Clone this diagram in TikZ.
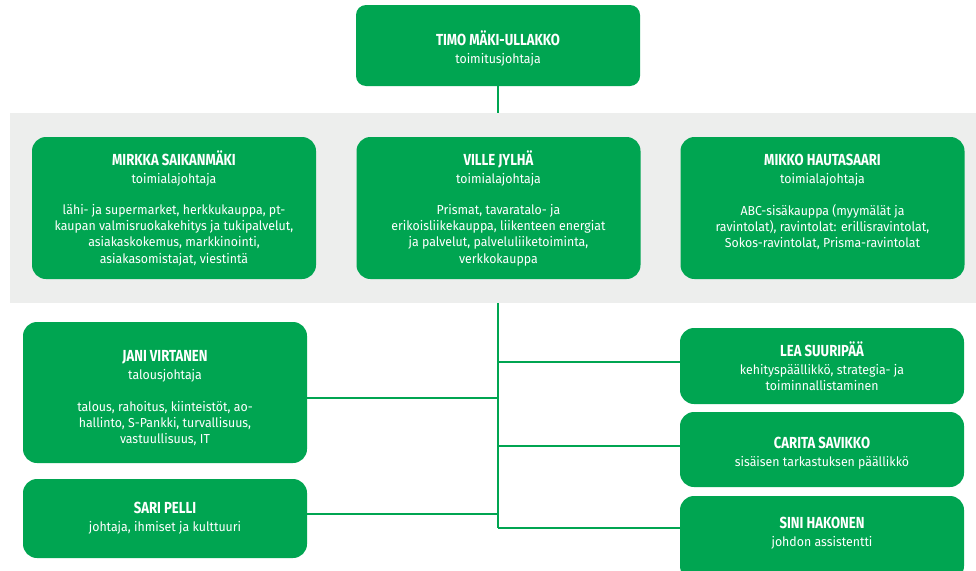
\documentclass[tikz,border=0pt]{standalone}
\usepackage{fontspec}
\setmainfont{Fira Sans}[FakeStretch=0.95]
\newfontfamily\namefont{Fira Sans}[FakeStretch=0.82]
\usepackage{xcolor}
\usepackage{tikz}

\definecolor{sgreen}{HTML}{00A551}
\definecolor{bandgray}{HTML}{EDEEED}

\newcommand{\who}[1]{{\namefont\bfseries\fontsize{16}{18}\selectfont #1}}

\begin{document}
\begin{tikzpicture}[x=1pt, y=-1pt,
  card/.style={fill=sgreen, rounded corners=14pt, text=white, align=center,
    minimum width=284pt, inner sep=0pt, font=\fontsize{13}{16.2}\selectfont},
  link/.style={draw=sgreen, line width=1.6pt}]

\useasboundingbox (0,0) rectangle (976,570);
\clip (0,0) rectangle (976,570);

% toimitusjohtaja
\node[card, minimum height=81pt, rounded corners=10pt] (timo) at (498,45.5)
  {\mbox{}\\[4pt] \who{TIMO MÄKI-ULLAKKO}\\[2pt] toimitusjohtaja};

% runko
\coordinate (trunkend) at (498,528);
\draw[link] (timo.south) -- (trunkend);

% harmaa kaista
\fill[bandgray] (10,113) rectangle (976,303);

% toimialajohtajat
\node[card, minimum height=142pt] (mirkka) at (174,208)
  {\who{MIRKKA SAIKANMÄKI}\\[2pt] toimialajohtaja\\[15pt]
   lähi- ja supermarket, herkkukauppa, pt-\\
   kaupan valmisruokakehitys ja tukipalvelut,\\
   asiakaskokemus, markkinointi,\\
   asiakasomistajat, viestintä};

\node[card, minimum height=142pt] (ville) at (498.5,208)
  {\who{VILLE JYLHÄ}\\[2pt] toimialajohtaja\\[15pt]
   Prismat, tavaratalo- ja\\
   erikoisliikekauppa, liikenteen energiat\\
   ja palvelut, palveluliiketoiminta,\\
   verkkokauppa};

\node[card, minimum height=142pt] (mikko) at (822.5,208)
  {\who{MIKKO HAUTASAARI}\\[2pt] toimialajohtaja\\[15pt]
   ABC-sisäkauppa (myymälät ja\\
   ravintolat), ravintolat: erillisravintolat,\\
   Sokos-ravintolat, Prisma-ravintolat\\[-7pt] \strut};

% muu johto
\node[card, minimum height=141pt] (jani) at (165,392.5)
  {\mbox{}\\[6pt] \who{JANI VIRTANEN}\\[2pt] talousjohtaja\\[15pt]
   talous, rahoitus, kiinteistöt, ao-\\
   hallinto, S-Pankki, turvallisuus,\\
   vastuullisuus, IT};

\node[card, minimum height=79pt] (sari) at (165,518.5)
  {\who{SARI PELLI}\\[2pt] johtaja, ihmiset ja kulttuuri};

\node[card, minimum height=76pt] (lea) at (822,366)
  {\who{LEA SUURIPÄÄ}\\[2pt] kehityspäällikkö, strategia- ja\\ toiminnallistaminen};

\node[card, minimum height=75pt] (carita) at (822,449.5)
  {\mbox{}\\[2pt] \who{CARITA SAVIKKO}\\[2pt] sisäisen tarkastuksen päällikkö};

\node[card, minimum height=84pt] (sini) at (822,538)
  {\who{SINI HAKONEN}\\[2pt] johdon assistentti\\[-8pt] \strut};

% haarat
\coordinate (bjani) at (498,398);
\coordinate (bsari) at (498,514);
\coordinate (blea) at (498,362);
\coordinate (bcarita) at (498,446);
\draw[link] (jani.east |- bjani) -- (bjani);
\draw[link] (sari.east |- bsari) -- (bsari);
\draw[link] (blea) -- (blea -| lea.west);
\draw[link] (bcarita) -- (bcarita -| carita.west);
\draw[link] (trunkend) -- (trunkend -| sini.west);

\end{tikzpicture}
\end{document}
